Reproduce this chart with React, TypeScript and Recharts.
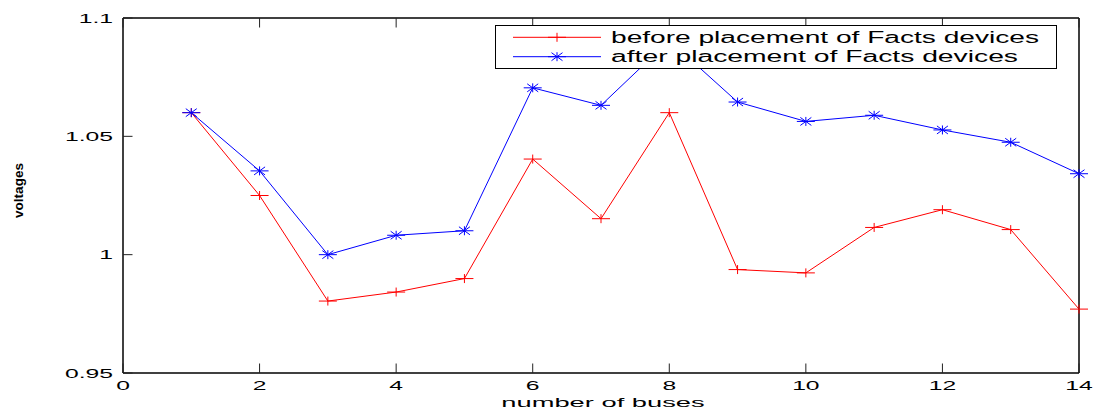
import { LineChart, Line, XAxis, YAxis } from 'recharts';

const buses = [1, 2, 3, 4, 5, 6, 7, 8, 9, 10, 11, 12, 13, 14];
const before = [1.06, 1.025, 0.9804, 0.9842, 0.9899, 1.0404, 1.0152, 1.06, 0.9937, 0.9923, 1.0115, 1.019, 1.0106, 0.977];
const after = [1.06, 1.0354, 1.0, 1.0082, 1.0101, 1.0705, 1.0631, 1.0905, 1.0645, 1.0563, 1.0589, 1.0527, 1.0475, 1.0342];
const xTicks = [0, 2, 4, 6, 8, 10, 12, 14];
const yTicks = [0.95, 1, 1.05, 1.1];
const seriesNames = ['before placement of Facts devices', 'after placement of Facts devices'];

const data = buses.map((bus, i) => ({ bus, before: before[i], after: after[i] }));

const FONT = '"Liberation Sans", Arial, Helvetica, sans-serif';
const STRETCH = 1.9;
const TICK_LEN = 9.5;
const RED = '#ff0000';
const BLUE = '#0000ff';

// matlab style inward ticks + stretched labels
const LeftTick = (props: any) => {
  const { x, y, payload } = props;
  const ax = x + 10;
  return (
    <g>
      <line x1={ax} y1={y} x2={ax + TICK_LEN} y2={y} stroke="#222" strokeWidth={1} />
      <text
        transform={`translate(${x},${y + 4.6}) scale(${STRETCH},1)`}
        textAnchor="end"
        fontSize={13}
        fontFamily={FONT}
        fill="#000"
      >
        {String(payload.value)}
      </text>
    </g>
  );
};

const BottomTick = (props: any) => {
  const { x, y, payload } = props;
  return (
    <g>
      <line x1={x} y1={y} x2={x} y2={y - TICK_LEN} stroke="#222" strokeWidth={1} />
      <text
        transform={`translate(${x},${y + 16.5}) scale(${STRETCH},1)`}
        textAnchor="middle"
        fontSize={13}
        fontFamily={FONT}
        fill="#000"
      >
        {String(payload.value)}
      </text>
    </g>
  );
};

const TopTick = (props: any) => {
  const { x, y } = props;
  return <line x1={x} y1={y} x2={x} y2={y + TICK_LEN} stroke="#222" strokeWidth={1} />;
};

const RightTick = (props: any) => {
  const { x, y } = props;
  return <line x1={x} y1={y} x2={x - TICK_LEN} y2={y} stroke="#222" strokeWidth={1} />;
};

const PlusMark = ({ cx, cy, color }: any) => (
  <g stroke={color} strokeWidth={1}>
    <line x1={cx - 9} y1={cy} x2={cx + 9} y2={cy} />
    <line x1={cx} y1={cy - 4.5} x2={cx} y2={cy + 4.5} />
  </g>
);

const StarMark = ({ cx, cy, color }: any) => (
  <g stroke={color} strokeWidth={1}>
    <line x1={cx - 9} y1={cy} x2={cx + 9} y2={cy} />
    <line x1={cx} y1={cy - 4.5} x2={cx} y2={cy + 4.5} />
    <line x1={cx - 5.5} y1={cy - 4} x2={cx + 5.5} y2={cy + 4} />
    <line x1={cx - 5.5} y1={cy + 4} x2={cx + 5.5} y2={cy - 4} />
  </g>
);

const XTitle = (props: any) => {
  const vb = props.viewBox || { x: 123, width: 956 };
  return (
    <text
      transform={`translate(${vb.x + vb.width / 2 + 2},407) scale(2.1,1)`}
      textAnchor="middle"
      fontSize={13}
      fontFamily={FONT}
      fill="#000"
    >
      number of buses
    </text>
  );
};

const YTitle = () => (
  <text
    transform="translate(23,190.5) rotate(-90)"
    textAnchor="middle"
    fontSize={13}
    fontWeight="bold"
    fontFamily={FONT}
    textLength={55}
    lengthAdjust="spacingAndGlyphs"
    fill="#000"
  >
    voltages
  </text>
);

const LegendBox = () => (
  <svg
    width={563}
    height={45}
    style={{ position: 'absolute', left: 495, top: 25 }}
  >
    <rect x={0.5} y={0.5} width={561} height={43} fill="#fff" stroke="#000" strokeWidth={1} />
    <line x1={18} y1={12.3} x2={106} y2={12.3} stroke={RED} strokeWidth={1} />
    <PlusMark cx={62} cy={12.3} color={RED} />
    <text x={116} y={17.8} fontSize={16} fontFamily={FONT} textLength={428} lengthAdjust="spacingAndGlyphs">
      {seriesNames[0]}
    </text>
    <line x1={18} y1={31.7} x2={106} y2={31.7} stroke={BLUE} strokeWidth={1} />
    <StarMark cx={62} cy={31.7} color={BLUE} />
    <text x={116} y={37.2} fontSize={16} fontFamily={FONT} textLength={407} lengthAdjust="spacingAndGlyphs">
      {seriesNames[1]}
    </text>
  </svg>
);

export default function App() {
  return (
    <div style={{ position: 'absolute', left: 0, top: 0, width: 1097, height: 412, background: '#fff' }}>
      <LineChart width={1097} height={412} data={data} margin={{ top: 17, right: 17, bottom: 0, left: 0 }}>
        <XAxis
          dataKey="bus"
          type="number"
          domain={[0, 14]}
          ticks={xTicks}
          interval={0}
          height={39}
          tickSize={0}
          tickMargin={0}
          tickLine={false}
          tick={<BottomTick />}
          axisLine={{ stroke: '#000', strokeWidth: 1.5 }}
          label={<XTitle />}
        />
        <XAxis
          xAxisId="top"
          orientation="top"
          dataKey="bus"
          type="number"
          domain={[0, 14]}
          ticks={xTicks}
          interval={0}
          height={1}
          tickSize={0}
          tickMargin={0}
          tickLine={false}
          tick={<TopTick />}
          axisLine={{ stroke: '#000', strokeWidth: 1.5 }}
        />
        <YAxis
          type="number"
          domain={[0.95, 1.1]}
          ticks={yTicks}
          interval={0}
          width={123}
          tickSize={0}
          tickMargin={10}
          tickLine={false}
          tick={<LeftTick />}
          axisLine={{ stroke: '#000', strokeWidth: 1.5 }}
          label={<YTitle />}
        />
        <YAxis
          yAxisId="right"
          orientation="right"
          type="number"
          domain={[0.95, 1.1]}
          ticks={yTicks}
          interval={0}
          width={1}
          tickSize={0}
          tickMargin={0}
          tickLine={false}
          tick={<RightTick />}
          axisLine={{ stroke: '#000', strokeWidth: 1.5 }}
        />
        <Line
          dataKey="before"
          type="linear"
          stroke={RED}
          strokeWidth={1}
          isAnimationActive={false}
          dot={(p: any) => <PlusMark key={`b${p.index}`} cx={p.cx} cy={p.cy} color={RED} />}
          activeDot={false}
        />
        <Line
          dataKey="after"
          type="linear"
          stroke={BLUE}
          strokeWidth={1}
          isAnimationActive={false}
          dot={(p: any) => <StarMark key={`a${p.index}`} cx={p.cx} cy={p.cy} color={BLUE} />}
          activeDot={false}
        />
      </LineChart>
      <LegendBox />
    </div>
  );
}
